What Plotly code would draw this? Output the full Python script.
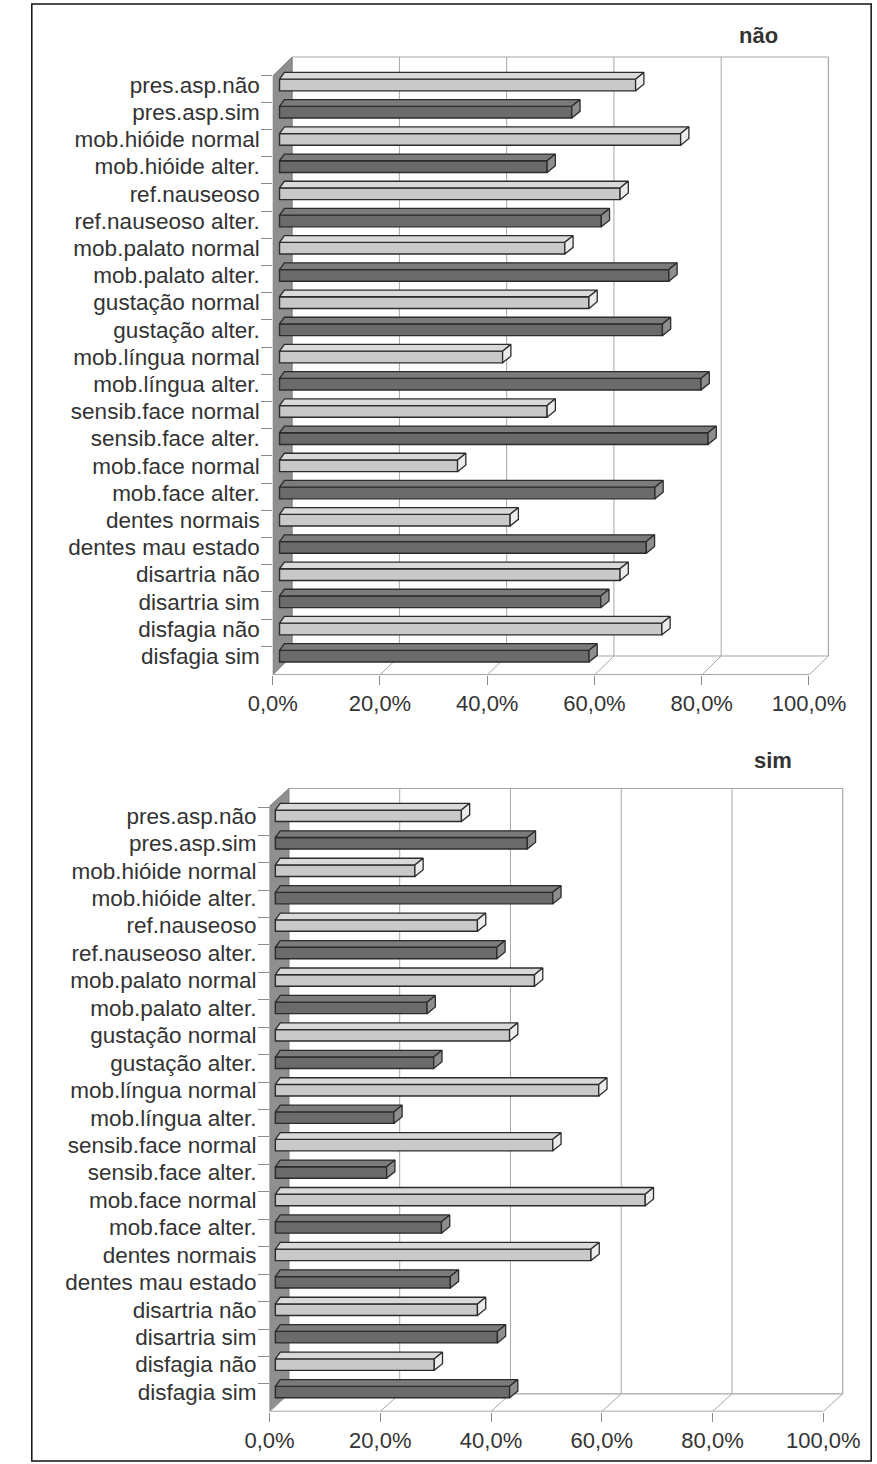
import plotly.graph_objects as go

# ---------------- data ----------------
categories = [
    "pres.asp.não", "pres.asp.sim", "mob.hióide normal", "mob.hióide alter.",
    "ref.nauseoso", "ref.nauseoso alter.", "mob.palato normal", "mob.palato alter.",
    "gustação normal", "gustação alter.", "mob.língua normal", "mob.língua alter.",
    "sensib.face normal", "sensib.face alter.", "mob.face normal", "mob.face alter.",
    "dentes normais", "dentes mau estado", "disartria não", "disartria sim",
    "disfagia não", "disfagia sim",
]
nao_values = [66.4, 54.5, 74.8, 49.9, 63.5, 60.0, 53.2, 72.6, 57.7, 71.4, 41.6,
              78.6, 49.9, 79.9, 33.2, 70.0, 43.0, 68.4, 63.5, 59.9, 71.3, 57.7]
sim_values = [33.6, 45.5, 25.2, 50.1, 36.5, 40.0, 46.8, 27.4, 42.3, 28.6, 58.4,
              21.4, 50.1, 20.1, 66.8, 30.0, 57.0, 31.6, 36.5, 40.1, 28.7, 42.3]
x_ticks = [0, 20, 40, 60, 80, 100]
x_tick_labels = ["0,0%", "20,0%", "40,0%", "60,0%", "80,0%", "100,0%"]
panel_titles = ["não", "sim"]

# ---------------- styling / geometry (pixels) ----------------
W, H = 877, 1464
FONT = "Liberation Sans, Arial, sans-serif"
TXT = "#333333"
LIGHT = dict(front="#c9c9c9", top="#d9d9d9", cap="#ececec")
DARK = dict(front="#6b6b6b", top="#7b7b7b", cap="#8e8e8e")
OUTLINE = "#2b2b2b"
GRID = "#a6a6a6"
WALL = "#8f8f8f"

panels = [
    dict(values=nao_values, title=panel_titles[0], fx0=255.0, scale=5.52, row0=85.0, pitch=27.2,
         floor=675.0, bdx=20.0, bdy=-19.0, wall_top=57.0, bar_off=7.0, bar_h=11.7,
         top_dy=-6.7, dxl=5.0, dxr=8.5, dom_x=(255.0, 848.0), dom_y=(40.0, 675.0),
         tick_off=-10.0, title_xy=(755, 35)),
    dict(values=sim_values, title=panel_titles[1], fx0=251.7, scale=5.70, row0=815.8, pitch=27.44,
         floor=1411.5, bdx=20.0, bdy=-17.7, wall_top=788.5, bar_off=6.0, bar_h=11.5,
         top_dy=-6.7, dxl=5.0, dxr=8.5, dom_x=(251.7, 860.0), dom_y=(770.0, 1411.5),
         tick_off=-8.1, title_xy=(770, 760)),
]

fig = go.Figure()
shapes = []
annotations = []
layout_axes = {}

for k, p in enumerate(panels):
    xa = "x" if k == 0 else "x2"
    ya = "y" if k == 0 else "y2"
    xname = "xaxis" if k == 0 else "xaxis2"
    yname = "yaxis" if k == 0 else "yaxis2"

    sx = p["scale"]
    sy = p["pitch"]
    def xd(px, p=p):
        return (px - p["fx0"]) / p["scale"]
    def yd(py, p=p):
        return (py - p["row0"]) / p["pitch"]

    n = len(categories)
    pos = list(range(n))
    vals = p["values"]
    base = p["bar_off"] / sx
    bw = p["bar_h"] / sy
    tdy = p["top_dy"] / sy
    dxl = p["dxl"] / sx
    dxr = p["dxr"] / sx
    bdx = p["bdx"] / sx
    floor_y = yd(p["floor"])
    back_floor_y = yd(p["floor"] + p["bdy"])
    wall_top_y = yd(p["wall_top"])
    front_wall_top_y = yd(p["wall_top"] - p["bdy"])

    colors = [LIGHT if i % 2 == 0 else DARK for i in pos]

    # front faces of the bars
    fig.add_trace(go.Bar(
        orientation="h", y=pos, x=vals, base=[base] * n, width=bw,
        marker=dict(color=[c["front"] for c in colors], line=dict(color=OUTLINE, width=1.4)),
        xaxis=xa, yaxis=ya, showlegend=False, hoverinfo="skip",
    ))
    # top faces and end caps (3-D look)
    for i, v in zip(pos, vals):
        c = colors[i]
        yt = i - bw / 2
        yb = i + bw / 2
        x1 = base + v
        fig.add_trace(go.Scatter(
            x=[base, x1, x1 + dxr, base + dxl, base],
            y=[yt, yt, yt + tdy, yt + tdy, yt],
            fill="toself", fillcolor=c["top"], mode="lines",
            line=dict(color=OUTLINE, width=1.3),
            xaxis=xa, yaxis=ya, showlegend=False, hoverinfo="skip",
        ))
        fig.add_trace(go.Scatter(
            x=[x1, x1, x1 + dxr, x1 + dxr, x1],
            y=[yt, yb, yb + tdy, yt + tdy, yt],
            fill="toself", fillcolor=c["cap"], mode="lines",
            line=dict(color=OUTLINE, width=1.3),
            xaxis=xa, yaxis=ya, showlegend=False, hoverinfo="skip",
        ))

    # left side wall
    path = (f"M 0,{floor_y} L 0,{front_wall_top_y} L {bdx},{wall_top_y} "
            f"L {bdx},{back_floor_y} Z")
    shapes.append(dict(type="path", path=path, xref=xa, yref=ya, fillcolor=WALL,
                       line=dict(color="#7a7a7a", width=1), layer="below"))
    # back wall border and gridlines
    shapes.append(dict(type="line", xref=xa, yref=ya, x0=bdx, x1=100 + bdx,
                       y0=wall_top_y, y1=wall_top_y, line=dict(color=GRID, width=1.2), layer="below"))
    shapes.append(dict(type="line", xref=xa, yref=ya, x0=100 + bdx, x1=100 + bdx,
                       y0=wall_top_y, y1=back_floor_y, line=dict(color=GRID, width=1.2), layer="below"))
    for t in x_ticks[1:-1]:
        shapes.append(dict(type="line", xref=xa, yref=ya, x0=t + bdx, x1=t + bdx,
                           y0=wall_top_y, y1=back_floor_y, line=dict(color=GRID, width=1), layer="below"))
    # floor
    shapes.append(dict(type="line", xref=xa, yref=ya, x0=bdx, x1=100 + bdx,
                       y0=back_floor_y, y1=back_floor_y, line=dict(color=GRID, width=1.2), layer="below"))
    shapes.append(dict(type="line", xref=xa, yref=ya, x0=0, x1=100,
                       y0=floor_y, y1=floor_y, line=dict(color="#8a8a8a", width=1.4), layer="below"))
    for t in x_ticks:
        shapes.append(dict(type="line", xref=xa, yref=ya, x0=t, x1=t + bdx,
                           y0=floor_y, y1=back_floor_y, line=dict(color=GRID, width=1), layer="below"))

    tick_shift = p["tick_off"] / sy
    layout_axes[xname] = dict(
        domain=[p["dom_x"][0] / W, p["dom_x"][1] / W],
        range=[0, xd(p["dom_x"][1])],
        anchor=ya, tickvals=x_ticks, ticktext=x_tick_labels,
        ticks="outside", ticklen=9, tickcolor="#8a8a8a", tickwidth=1.2,
        showgrid=False, zeroline=False, showline=False,
        tickfont=dict(family=FONT, size=22, color=TXT), fixedrange=True,
    )
    layout_axes[yname] = dict(
        domain=[1 - p["dom_y"][1] / H, 1 - p["dom_y"][0] / H],
        range=[yd(p["dom_y"][1]), yd(p["dom_y"][0])],
        anchor=xa, tickvals=pos, ticktext=categories, ticks="",
        ticklabelstandoff=12,
        minor=dict(tickvals=[i + tick_shift for i in pos], ticks="outside", ticklen=11,
                   tickcolor="#8a8a8a", tickwidth=1.2, showgrid=False),
        showgrid=False, zeroline=False, showline=False,
        tickfont=dict(family=FONT, size=22.5, color=TXT), fixedrange=True,
    )
    annotations.append(dict(text=f"<b>{p['title']}</b>", xref="paper", yref="paper",
                            x=p["title_xy"][0] / W, y=1 - p["title_xy"][1] / H,
                            xanchor="center", yanchor="middle", showarrow=False,
                            font=dict(family=FONT, size=22, color=TXT)))

# outer frame
shapes.append(dict(type="rect", xref="paper", yref="paper", x0=7 / W, x1=871 / W,
                   y0=1 - 1461 / H, y1=1 - 4 / H, line=dict(color="#111111", width=1.5),
                   layer="above"))

fig.update_layout(
    width=W, height=H, autosize=False,
    margin=dict(l=0, r=0, t=0, b=0),
    paper_bgcolor="white", plot_bgcolor="rgba(0,0,0,0)",
    separators=",.", barmode="overlay",
    shapes=shapes, annotations=annotations, showlegend=False,
    **layout_axes,
)

# remove the default 8px page margin so the figure fills the window exactly
page_fix = """
document.documentElement.style.margin='0';
document.documentElement.style.padding='0';
document.documentElement.style.overflow='hidden';
document.body.style.margin='0';
document.body.style.padding='0';
document.body.style.overflow='hidden';
"""
fig.write_html("out.html", post_script=page_fix)
